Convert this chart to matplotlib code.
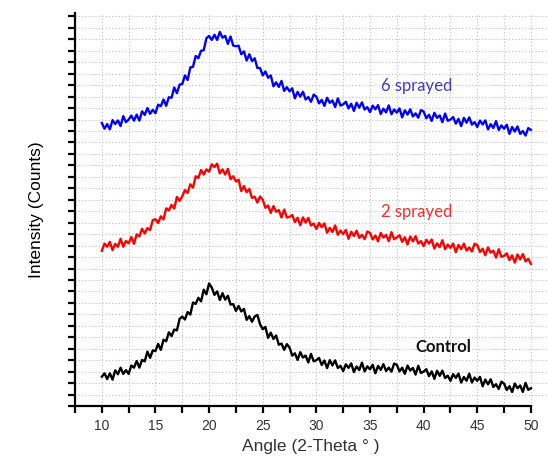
import numpy as np
import matplotlib
matplotlib.use("Agg")
import matplotlib.pyplot as plt
from matplotlib.ticker import MultipleLocator

plt.rcParams['font.family'] = ['Liberation Sans', 'DejaVu Sans']

# scan grid (2-theta, degrees)
angle = np.linspace(10, 50, 161)

# intensities (arbitrary stacked units)
sprayed6 = [24.70, 24.20, 24.60, 24.15, 24.95, 24.61, 24.92, 24.43, 25.30, 24.77,
            25.00, 25.35, 24.90, 25.43, 24.90, 25.72, 25.40, 26.00, 25.50, 25.85,
            25.55, 26.30, 26.17, 26.75, 26.20, 26.95, 26.90, 27.80, 27.30, 28.05,
            28.10, 28.85, 28.45, 29.55, 29.60, 30.55, 30.35, 31.00, 31.05, 32.10,
            32.30, 31.95, 32.40, 31.95, 32.65, 32.15, 32.30, 31.60, 32.25, 31.45,
            31.40, 31.45, 30.70, 30.95, 30.15, 30.70, 30.10, 30.35, 29.50, 29.50,
            28.85, 29.20, 28.65, 28.85, 27.90, 28.25, 27.85, 28.37, 27.50, 27.83,
            27.46, 27.73, 26.85, 27.42, 27.00, 27.43, 26.75, 26.97, 26.55, 27.18,
            27.00, 26.41, 26.72, 26.19, 26.90, 26.46, 26.67, 26.09, 26.85, 26.22,
            26.33, 26.55, 25.97, 26.38, 25.75, 26.47, 26.03, 26.50, 25.87, 26.08,
            25.65, 26.22, 25.89, 26.26, 25.48, 25.95, 25.62, 26.24, 25.46, 25.88,
            25.60, 25.97, 25.19, 25.81, 25.43, 25.90, 25.27, 25.54, 25.16, 25.83,
            25.70, 25.11, 25.42, 24.88, 25.59, 25.15, 25.36, 24.77, 25.53, 24.89,
            25.00, 25.22, 24.64, 25.06, 24.43, 25.15, 24.72, 25.19, 24.56, 24.78,
            24.35, 24.91, 24.57, 24.93, 24.14, 24.60, 24.26, 24.87, 24.08, 24.49,
            24.20, 24.55, 23.75, 24.35, 23.95, 24.40, 23.75, 24.00, 23.60, 24.25,
            24.10]

sprayed2 = [13.55, 14.17, 13.90, 14.32, 13.60, 14.15, 13.90, 14.60, 13.90, 14.40,
            14.20, 14.75, 14.15, 14.98, 14.80, 15.47, 15.05, 15.53, 15.35, 16.22,
            16.30, 15.97, 16.55, 16.28, 17.25, 17.07, 17.55, 17.23, 18.25, 17.90,
            18.30, 18.85, 18.60, 19.35, 19.05, 20.05, 19.90, 20.60, 20.20, 20.65,
            20.45, 21.10, 20.85, 21.15, 20.30, 20.65, 20.20, 20.70, 19.80, 20.05,
            19.60, 19.75, 18.75, 19.20, 18.65, 18.95, 18.15, 18.27, 17.75, 18.28,
            18.00, 17.30, 17.50, 16.85, 17.45, 16.95, 17.10, 16.45, 17.15, 16.45,
            16.50, 16.67, 16.05, 16.43, 15.77, 16.46, 16.00, 16.42, 15.75, 15.93,
            15.45, 15.98, 15.61, 15.94, 15.12, 15.55, 15.18, 15.76, 14.94, 15.32,
            15.00, 15.37, 14.59, 15.21, 14.83, 15.30, 14.67, 14.94, 14.56, 15.23,
            15.10, 14.54, 14.88, 14.37, 15.11, 14.70, 14.94, 14.38, 15.17, 14.56,
            14.70, 14.91, 14.32, 14.73, 14.09, 14.80, 14.36, 14.82, 14.18, 14.39,
            13.95, 14.51, 14.17, 14.53, 13.74, 14.20, 13.86, 14.47, 13.68, 14.09,
            13.80, 14.18, 13.42, 14.05, 13.69, 14.17, 13.56, 13.84, 13.48, 14.16,
            14.05, 13.44, 13.72, 13.16, 13.84, 13.38, 13.56, 12.95, 13.68, 13.02,
            13.10, 13.32, 12.73, 13.15, 12.51, 13.23, 12.79, 13.26, 12.62, 12.84,
            12.40]

control = [2.55, 2.85, 2.35, 2.85, 2.30, 3.11, 2.77, 3.34, 2.80, 3.13,
           2.80, 3.53, 3.35, 3.93, 3.35, 4.02, 3.90, 4.75, 4.20, 4.85,
           4.80, 5.42, 4.90, 5.78, 5.65, 6.43, 6.10, 6.67, 6.60, 7.60,
           7.80, 7.55, 8.20, 7.98, 9.03, 8.91, 9.45, 9.13, 10.15, 9.75,
           10.70, 10.33, 9.70, 10.00, 9.25, 9.85, 9.28, 9.62, 8.85, 8.90,
           8.30, 8.73, 8.25, 8.47, 7.52, 7.84, 7.35, 7.81, 7.95, 7.14,
           6.70, 6.90, 5.95, 6.40, 5.85, 6.15, 5.35, 5.45, 4.90, 5.40,
           5.10, 4.40, 4.60, 4.02, 4.70, 4.23, 4.40, 3.80, 4.55, 3.90,
           4.00, 4.19, 3.58, 3.97, 3.31, 4.00, 3.54, 3.98, 3.32, 3.51,
           3.05, 3.64, 3.33, 3.72, 2.96, 3.45, 3.14, 3.78, 3.02, 3.46,
           3.20, 3.60, 2.85, 3.50, 3.15, 3.65, 3.05, 3.35, 3.00, 3.70,
           3.60, 3.02, 3.34, 2.81, 3.53, 3.10, 3.32, 2.74, 3.51, 2.88,
           3.00, 3.21, 2.61, 3.02, 2.37, 3.08, 2.63, 3.09, 2.44, 2.65,
           2.20, 2.78, 2.45, 2.83, 2.05, 2.53, 2.20, 2.83, 2.05, 2.48,
           2.20, 2.54, 1.72, 2.31, 1.89, 2.33, 1.66, 1.90, 1.48, 2.12,
           1.95, 1.39, 1.73, 1.22, 1.96, 1.55, 1.79, 1.23, 2.02, 1.41,
           1.55]

series_names = ['6 sprayed', '2 sprayed', 'Control']
line_colors = ['#0000ff', '#ff0000', '#000000']
text_colors = ['#3c3ccc', '#ff2a2a', '#111111']
text_pos = [(39.3, 27.9), (39.3, 16.9), (41.8, 5.15)]

fig = plt.figure(figsize=(5.48, 4.59), dpi=100)
ax = fig.add_axes([75/548, 53/459, 472/548, 393/459])

for ys, c in zip([sprayed6, sprayed2, control], line_colors):
    ax.plot(angle, ys, color=c, lw=1.7)

for name, (tx, ty), tc in zip(series_names, text_pos, text_colors):
    ax.text(tx, ty, name, color=tc, fontsize=12, family=['Lato', 'DejaVu Sans'],
            ha='center', va='center', fontweight='bold' if name == 'Control' else 'normal')

ax.set_xlim(7.5, 51.5)
ax.set_ylim(0, 34.3)
ax.yaxis.set_major_locator(MultipleLocator(1))
ax.set_xticks(np.arange(10, 51, 5), [str(v) for v in range(10, 51, 5)])
ax.set_xticks(np.arange(7.5, 50.1, 2.5), minor=True)
ax.set_yticklabels([])

ax.grid(True, which='both', axis='x', color='#bdbdbd', linestyle=(0, (1, 2)), lw=0.8)
ax.grid(True, which='major', axis='y', color='#bdbdbd', linestyle=(0, (1, 2)), lw=0.8)
ax.set_axisbelow(True)

for s in ['top', 'right']:
    ax.spines[s].set_visible(False)
ax.spines['left'].set_linewidth(1.6)
ax.spines['bottom'].set_linewidth(1.6)
ax.spines['bottom'].set_bounds(7.5, 50)

ax.tick_params(axis='both', which='both', direction='out', length=5, width=1.6)
ax.tick_params(axis='x', labelsize=10, labelcolor='#333333', pad=4)

ax.set_xlabel('Angle (2-Theta ° )', fontsize=12.5, color='#333333', labelpad=5)
ax.set_ylabel('Intensity (Counts)', fontsize=12.5, color='#000000', labelpad=14)

fig.savefig('out.png', dpi=100)
